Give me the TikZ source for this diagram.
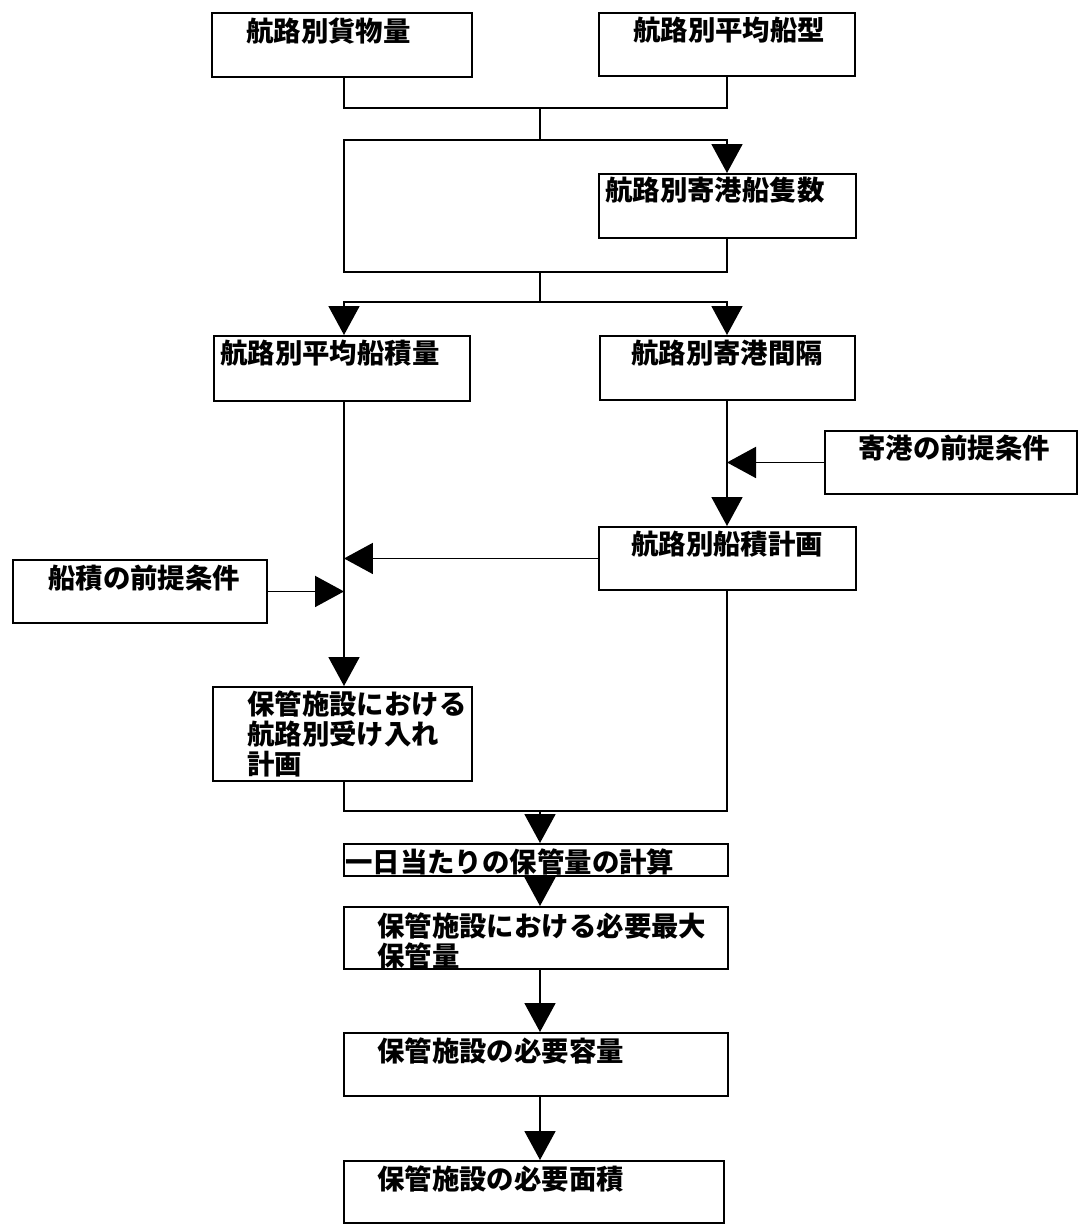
\documentclass[tikz,border=0pt]{standalone}
\usepackage{fontspec}
\newfontfamily\jp{Noto Sans CJK JP}
\usetikzlibrary{arrows.meta}

\begin{document}
\begin{tikzpicture}[x=0.02cm, y=-0.02cm,
  box/.style={draw, line width=1.1pt, rectangle, inner sep=0pt, anchor=north west},
  lbl/.style={anchor=north west, inner sep=0pt, align=left,
    font=\jp\bfseries\fontsize{15.6pt}{17.1pt}\selectfont},
  ln/.style={draw, line width=1.1pt},
  arr/.style={ln, -{Triangle[width=0.62cm, length=0.58cm]}}]

\useasboundingbox (0,0) rectangle (1078,1224);

% columns of the connectors
\coordinate (cL) at (344,0);
\coordinate (cR) at (727,0);
\coordinate (cM) at (540,0);

% process boxes
\node[box, minimum width=5.20cm, minimum height=1.28cm] (B1)  at (211,12)   {};
\node[box, minimum width=5.12cm, minimum height=1.26cm] (B2)  at (598,12)   {};
\node[box, minimum width=5.14cm, minimum height=1.28cm] (B3)  at (598,173)  {};
\node[box, minimum width=5.12cm, minimum height=1.30cm] (B4)  at (213,335)  {};
\node[box, minimum width=5.10cm, minimum height=1.28cm] (B5)  at (599,335)  {};
\node[box, minimum width=5.04cm, minimum height=1.26cm] (B6)  at (824,430)  {};
\node[box, minimum width=5.14cm, minimum height=1.26cm] (B7)  at (598,526)  {};
\node[box, minimum width=5.08cm, minimum height=1.26cm] (B8)  at (12,559)   {};
\node[box, minimum width=5.18cm, minimum height=1.88cm] (B9)  at (212,686)  {};
\node[box, minimum width=7.68cm, minimum height=0.64cm] (B10) at (343,843)  {};
\node[box, minimum width=7.68cm, minimum height=1.24cm] (B11) at (343,906)  {};
\node[box, minimum width=7.68cm, minimum height=1.26cm] (B12) at (343,1032) {};
\node[box, minimum width=7.60cm, minimum height=1.24cm] (B13) at (343,1160) {};

% box texts
\node[lbl] (T1)  at (246,17)   {航路別貨物量};
\node[lbl] (T2)  at (633,17)   {航路別平均船型};
\node[lbl] (T3)  at (605,177)  {航路別寄港船隻数};
\node[lbl] (T4)  at (220,340)  {航路別平均船積量};
\node[lbl] (T5)  at (631,340)  {航路別寄港間隔};
\node[lbl] (T6)  at (858,435)  {寄港の前提条件};
\node[lbl] (T7)  at (631,531)  {航路別船積計画};
\node[lbl] (T8)  at (48,565)   {船積の前提条件};
\node[lbl] (T9)  at (247,690)  {保管施設における\\航路別受け入れ\\計画};
\node[lbl] (T10) at (345,848)  {一日当たりの保管量の計算};
\node[lbl] (T11) at (377,912)  {保管施設における必要最大\\保管量};
\node[lbl] (T12) at (377,1037) {保管施設の必要容量};
\node[lbl] (T13) at (377,1165) {保管施設の必要面積};

% junction points
\coordinate (m1) at (540,108);
\coordinate (m2) at (540,140);
\coordinate (m3) at (540,272);
\coordinate (m4) at (540,302);
\coordinate (m5) at (540,811);

% connectors
\draw[ln] (B1.south -| cL) |- (m1) -| (B2.south -| cR);
\draw[ln] (m1) -- (m2);
\draw[arr] (m2) -| (B3.north -| cR);
\draw[ln] (m2) -| (cL |- m3) -- (m3);
\draw[ln] (B3.south -| cR) |- (m3);
\draw[ln] (m3) -- (m4);
\draw[arr] (m4) -| (B4.north -| cL);
\draw[arr] (m4) -| (B5.north -| cR);
\draw[arr] (B4.south -| cL) -- (B9.north -| cL);
\draw[arr] (B5.south -| cR) -- (B7.north -| cR);
\draw[arr] (B6.west) -- (B6.west -| cR);
\draw[arr] (B7.west) -- (B7.west -| cL);
\draw[arr] (B8.east) -- (B8.east -| cL);
\draw[ln] (B9.south -| cL) |- (m5);
\draw[ln] (B7.south -| cR) |- (m5);
\draw[arr] (m5) -- (B10.north -| m5);
\draw[arr] (B10.south -| m5) -- (B11.north -| m5);
\draw[arr] (B11.south -| m5) -- (B12.north -| m5);
\draw[arr] (B12.south -| m5) -- (B13.north -| m5);

\end{tikzpicture}
\end{document}
